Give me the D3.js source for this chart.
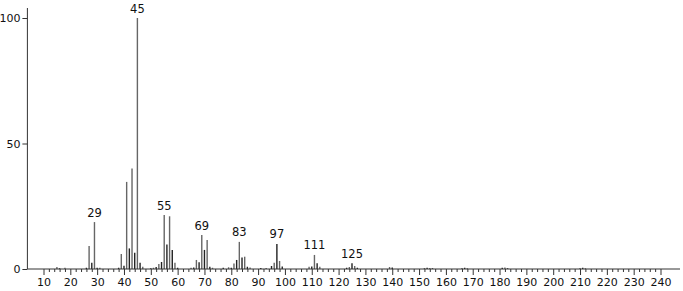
<!DOCTYPE html>
<html><head><meta charset="utf-8">
<script src="https://cdn.jsdelivr.net/npm/d3@7"></script>
<style>
html,body{margin:0;padding:0;background:#fff;}
svg text{font-family:"DejaVu Sans",sans-serif;}
</style></head>
<body><svg id="c" width="683" height="291"></svg>
<script>
const mz = [15,16,18,26,27,28,29,30,31,38,39,40,41,42,43,44,45,46,47,50,51,52,53,54,55,56,57,58,59,60,
  65,66,67,68,69,70,71,72,73,77,79,80,81,82,83,84,85,86,87,91,93,95,96,97,98,99,
  109,110,111,112,113,123,124,125,126,127,139,140,152,153,154,155,166,167,168,181,182,183,210,211,212];
const intensity = [0.8,0.3,0.5,0.5,9.2,2.5,18.7,0.5,0.5,0.5,6.0,1.3,34.7,8.2,40.0,6.5,100,2.5,0.9,0.3,0.5,0.8,2.0,2.8,21.5,9.8,21.0,7.6,2.5,0.5,
  0.5,0.6,3.6,2.7,13.5,7.6,11.6,0.9,0.5,0.5,0.7,0.5,2.2,3.6,10.8,4.6,4.9,0.9,0.6,0.4,0.4,1.2,2.5,10.0,3.2,1.0,
  0.9,1.0,5.6,2.3,0.9,0.5,0.8,2.3,1.2,0.5,0.8,0.6,0.4,0.5,0.4,0.3,0.4,0.5,0.3,0.5,0.6,0.3,0.4,0.5,0.3];
const labeledPeaks = [29,45,55,69,83,97,111,125];
const xMajorTicks = d3.range(10,241,10);
const xMinorTicks = d3.range(12,241,2).filter(v=>v%10!==0);
const yTicks = [0,50,100];

const svg = d3.select("#c");
const x = d3.scaleLinear().domain([10,240]).range([43.5,660.5]);
const y = d3.scaleLinear().domain([0,100]).range([269,18]);
const x0 = x(4), xEnd = 680;

// bars
const data = mz.map((m,i)=>({m, v:intensity[i]}));
svg.append("g").selectAll("line").data(data).join("line")
  .attr("x1",d=>x(d.m)).attr("x2",d=>x(d.m))
  .attr("y1",y(0)).attr("y2",d=>y(d.v))
  .attr("stroke",(d,i)=> i%2? "#222":"#666").attr("stroke-width",1.4);

// x axis
const gx = svg.append("g").attr("transform",`translate(0,${y(0)})`);
gx.call(d3.axisBottom(x).tickValues(xMajorTicks).tickSize(6).tickPadding(3).tickFormat(d3.format("d")));
const gxm = svg.append("g").attr("transform",`translate(0,${y(0)})`);
gxm.call(d3.axisBottom(x).tickValues(xMinorTicks).tickSize(3).tickFormat(""));
[gx,gxm].forEach(g=>{g.select(".domain").remove(); g.selectAll("line").attr("stroke","#333");});
gx.selectAll("text").attr("font-size",11).attr("fill","#111");
svg.append("line").attr("x1",x0).attr("x2",xEnd).attr("y1",y(0)).attr("y2",y(0)).attr("stroke","#333").attr("stroke-width",1);

// y axis
const gy = svg.append("g").attr("transform",`translate(${x0},0)`);
gy.call(d3.axisLeft(y).tickValues(yTicks).tickSize(5).tickPadding(2));
gy.select(".domain").remove();
gy.selectAll("line").attr("stroke","#333");
gy.selectAll("text").attr("font-size",11).attr("fill","#111");
svg.append("line").attr("x1",x0).attr("x2",x0).attr("y1",y(0)).attr("y2",8).attr("stroke","#333");

// peak labels
svg.append("g").selectAll("text").data(data.filter(d=>labeledPeaks.includes(d.m))).join("text")
  .attr("x",d=>x(d.m)).attr("y",d=>y(d.v)-5.5)
  .attr("text-anchor","middle").attr("font-size",11.5).attr("fill","#111")
  .text(d=>d.m);
</script></body></html>
